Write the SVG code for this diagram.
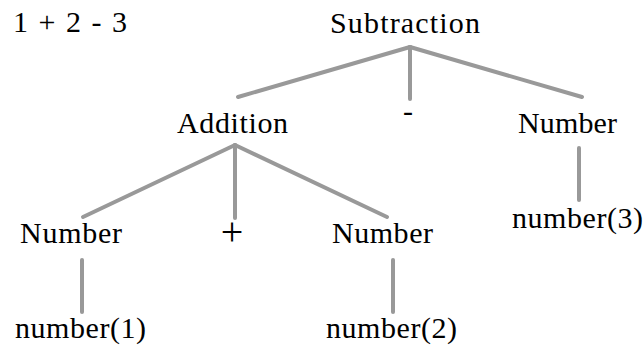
<svg xmlns="http://www.w3.org/2000/svg" width="644" height="350" viewBox="0 0 644 350">
<style>
  .t { font-family: "Liberation Serif", "DejaVu Serif", serif; font-size: 30px; fill: #000; }
  .c { text-anchor: middle; }
  .edge { stroke: #999999; stroke-width: 4; stroke-linecap: round; fill: none; }
</style>
<rect width="644" height="350" fill="#ffffff"/>
<g id="connectors">
  <line class="edge" x1="410" y1="47" x2="238" y2="97"/>
  <line class="edge" x1="410" y1="47" x2="410" y2="99"/>
  <line class="edge" x1="410" y1="47" x2="582" y2="97"/>
  <line class="edge" x1="235" y1="145" x2="83" y2="217"/>
  <line class="edge" x1="235" y1="145" x2="235" y2="218"/>
  <line class="edge" x1="235" y1="145" x2="387" y2="217"/>
  <line class="edge" x1="579" y1="148" x2="579" y2="200"/>
  <line class="edge" x1="82" y1="260" x2="82" y2="312"/>
  <line class="edge" x1="393" y1="260" x2="393" y2="312"/>
</g>
<g id="expression">
  <text class="t" x="13" y="32" textLength="114" lengthAdjust="spacing">1 + 2 - 3</text>
</g>
<g id="subtraction"><text class="t c" x="405" y="33" textLength="150" lengthAdjust="spacing">Subtraction</text></g>
<g id="addition"><text class="t c" x="232.5" y="133" textLength="111" lengthAdjust="spacing">Addition</text></g>
<g id="minus"><text class="t c" x="408" y="121">-</text></g>
<g id="number3"><text class="t c" x="567.5" y="133" textLength="99" lengthAdjust="spacing">Number</text></g>
<g id="number1"><text class="t c" x="71" y="243" textLength="102" lengthAdjust="spacing">Number</text></g>
<g id="plus"><text class="t c" x="232" y="245" style="font-size:40px">+</text></g>
<g id="number2"><text class="t c" x="382.5" y="243" textLength="101" lengthAdjust="spacing">Number</text></g>
<g id="leaf1"><text class="t c" x="80.5" y="338" textLength="131" lengthAdjust="spacing">number(1)</text></g>
<g id="leaf2"><text class="t c" x="391.5" y="338" textLength="131" lengthAdjust="spacing">number(2)</text></g>
<g id="leaf3"><text class="t c" x="577.5" y="228" textLength="131" lengthAdjust="spacing">number(3)</text></g>
</svg>
